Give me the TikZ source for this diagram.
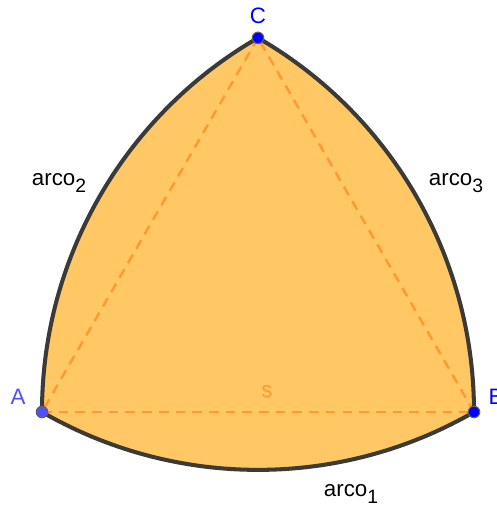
\documentclass[tikz,border=0pt]{standalone}
\usepackage{fontspec}
\setmainfont{Liberation Sans}
\usetikzlibrary{calc}
\definecolor{arcfill}{HTML}{FFC864}
\definecolor{arcline}{HTML}{3C3A36}
\definecolor{sideorange}{HTML}{FF9933}
\definecolor{ptblue}{HTML}{0000FF}
\definecolor{ptlight}{HTML}{5050FF}
\newcommand{\arcsub}[1]{\raisebox{-0.6ex}{\fontsize{11}{13}\selectfont #1}}

\begin{document}
\begin{tikzpicture}[font=\fontsize{12.7}{14}\selectfont]
        \useasboundingbox (0,0) rectangle (9.92,10.16);
        \coordinate (pA) at (0.84,1.92);
        \coordinate (pB) at (9.48,1.92);
        \coordinate (pC) at (5.16,9.4025);
        % Reuleaux triangle
        \filldraw[fill=arcfill,draw=arcline,line width=2.3pt,line join=round]
          (pA) arc[start angle=240,end angle=300,radius=8.64cm]
          arc[start angle=0,end angle=60,radius=8.64cm]
          arc[start angle=120,end angle=180,radius=8.64cm] -- cycle;
        \draw[sideorange,line width=1.4pt,dash pattern=on 5.5pt off 4pt] (pA) -- (pB);
        \draw[sideorange,line width=1.4pt,dash pattern=on 5.5pt off 4pt] (pB) -- (pC);
        \draw[sideorange,line width=1.4pt,dash pattern=on 5.5pt off 4pt] (pC) -- (pA);
        \node[circle,fill=ptlight,draw=arcline!80,line width=0.6pt,inner sep=0pt,minimum size=0.23cm] (A) at (pA) {};
        \node[circle,fill=ptblue,draw=arcline!80,line width=0.6pt,inner sep=0pt,minimum size=0.23cm] (B) at (pB) {};
        \node[circle,fill=ptblue,draw=arcline!80,line width=0.6pt,inner sep=0pt,minimum size=0.23cm] (C) at (pC) {};
        \node[text=ptlight] (labA) at (0.36,2.22) {A};
        \node[text=ptblue] (labB) at (9.92,2.22) {B};
        \node[text=ptblue] (labC) at (5.16,9.84) {C};
        \node (arco2) at (1.18,6.5) {arco\arcsub{2}};
        \node (arco3) at (9.12,6.5) {arco\arcsub{3}};
        \node (arco1) at (7.02,0.28) {arco\arcsub{1}};
        \node[text=sideorange] (labs) at (5.34,2.32) {s};
      \end{tikzpicture}
\end{document}
